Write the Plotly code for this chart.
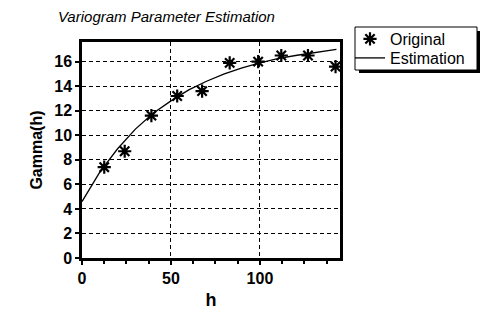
import plotly.graph_objects as go

# Original (experimental) variogram points
h_orig = [12.5, 24, 39, 53.5, 67.5, 83, 99, 112, 127, 142.5]
gamma_orig = [7.4, 8.7, 11.6, 13.2, 13.6, 15.9, 16.0, 16.5, 16.5, 15.6]

# Estimated (fitted) model curve
h_est = [0, 10, 20, 30, 40, 50, 60, 70, 80, 90, 100, 110, 120, 130, 140, 143]
gamma_est = [4.6, 7.0, 8.9, 10.5, 11.8, 12.8, 13.7, 14.4, 15.0, 15.5, 15.9, 16.25, 16.5, 16.7, 16.9, 17.0]

x_ticks = [0, 50, 100]
y_ticks = [0, 2, 4, 6, 8, 10, 12, 14, 16]

FONT = "Liberation Sans, Arial, sans-serif"

W, H = 488, 323
ML, MR, MT, MB = 82, 148, 42, 65
PW, PH = W - ML - MR, H - MT - MB


def px(x):
    return (x - ML) / PW


def py(y):
    return (H - MB - y) / PH


fig = go.Figure()
fig.add_trace(go.Scatter(
    x=h_orig, y=gamma_orig, mode="markers", name="Original", legend="legend",
    marker=dict(symbol="asterisk-open", size=11, color="black",
                line=dict(color="black", width=2.2)),
))
fig.add_trace(go.Scatter(
    x=h_est, y=gamma_est, mode="lines", name="Estimation", legend="legend2",
    line=dict(color="black", width=1.3),
))

axis_common = dict(
    showline=True, linecolor="black", mirror=True,
    showgrid=True, gridcolor="black", griddash="4px,3px", gridwidth=1,
    ticks="outside", tickcolor="black", ticklen=4, tickwidth=1.5,
    zeroline=False,
    tickfont=dict(family=FONT, size=16, color="black", weight="bold"),
)

fig.update_xaxes(
    range=[0, 145], tickvals=x_ticks, linewidth=2.5,
    title=dict(text="<b>h</b>", font=dict(family=FONT, size=18, color="black"), standoff=8),
    minor=dict(dtick=12.5, ticks="outside", ticklen=3, tickcolor="black", showgrid=False),
    **axis_common,
)
fig.update_yaxes(
    range=[0, 17.6], tickvals=y_ticks, linewidth=2.5,
    title=dict(text="<b>Gamma(h)</b>", font=dict(family=FONT, size=16, color="black"), standoff=8),
    **axis_common,
)

# legend shadow and frame
fig.add_shape(type="rect", xref="paper", yref="paper",
              x0=px(359), x1=px(480), y0=py(73), y1=py(31),
              fillcolor="black", line=dict(width=0), layer="above")
fig.add_shape(type="rect", xref="paper", yref="paper",
              x0=px(355), x1=px(477), y0=py(70), y1=py(27),
              fillcolor="white", line=dict(color="black", width=1), layer="above")

leg_common = dict(xanchor="left", yanchor="middle", x=px(350),
                  bgcolor="rgba(0,0,0,0)", borderwidth=0,
                  font=dict(family=FONT, size=16, color="black"), itemwidth=30)

fig.update_layout(
    width=W, height=H,
    margin=dict(l=ML, r=MR, t=MT, b=MB),
    paper_bgcolor="white", plot_bgcolor="white",
    title=dict(text="<i>Variogram Parameter Estimation</i>",
               font=dict(family=FONT, size=15, color="black"),
               x=px(170), xanchor="center", y=1 - 17 / H, yanchor="middle"),
    legend=dict(y=py(39), **leg_common),
    legend2=dict(y=py(58), **leg_common),
    showlegend=True,
)

fig.write_html("out.html", config={"displayModeBar": False},
               post_script="document.body.style.margin='0';")
